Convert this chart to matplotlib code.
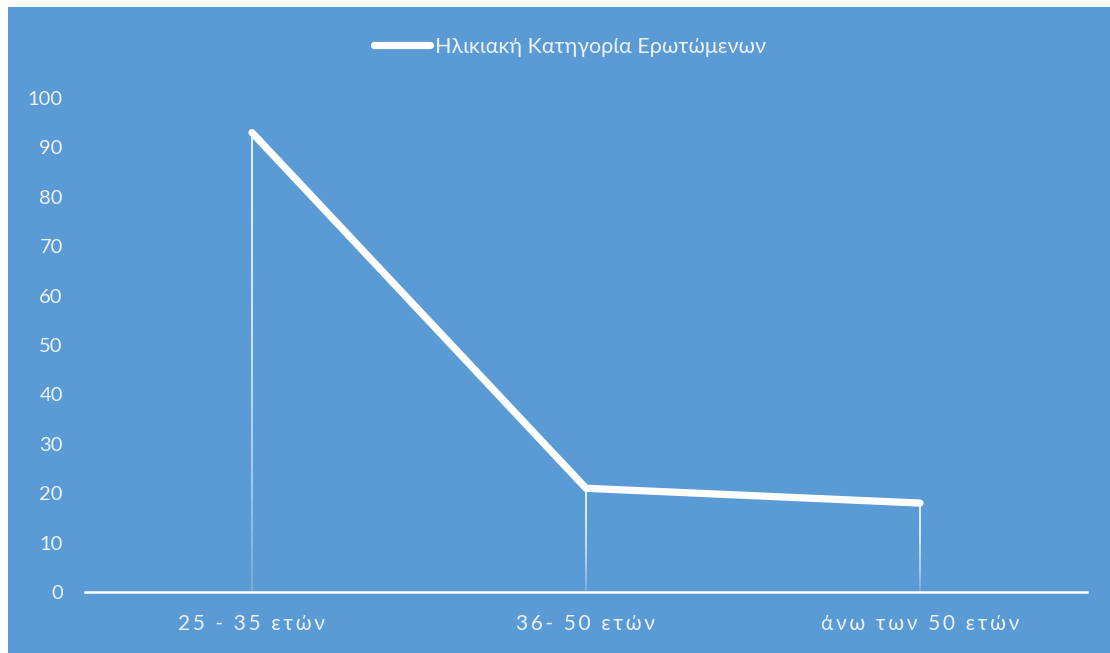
import numpy as np
import matplotlib.pyplot as plt
from matplotlib.patches import Rectangle

categories = ['25 - 35 ετών', '36- 50 ετών', 'άνω των 50 ετών']
values = [93, 21, 18]
series_name = 'Ηλικιακή Κατηγορία Ερωτώμενων'
yticks = list(range(0, 101, 10))

bg = '#5b9bd5'
txt = '#eef3f9'

plt.rcParams['font.family'] = ['Lato', 'DejaVu Sans']

fig = plt.figure(figsize=(11.1, 6.53), dpi=100)
fig.patch.set_facecolor('white')
# blue chart area (thin white edge on top/left like the screenshot)
fig.patches.append(Rectangle((8 / 1110, 0), 1, 1 - 7 / 653, transform=fig.transFigure,
                             facecolor=bg, edgecolor='none', zorder=-10))

ax = fig.add_axes([85 / 1110, 61 / 653, 1002 / 1110, 494 / 653])
ax.set_zorder(5)
ax.patch.set_visible(False)

x = np.arange(len(categories))

# drop lines, fading towards the axis
n = 30
for xi, v in zip(x, values):
    edges = np.linspace(v, 0, n + 1)
    for k in range(n):
        a = 1.0 - 0.85 * (k / n) ** 2
        ax.plot([xi, xi], [edges[k], edges[k + 1]], color='white', lw=1.2,
                alpha=a, solid_capstyle='butt', zorder=2)

ax.plot(x, values, color='white', lw=5.2, solid_capstyle='round',
        solid_joinstyle='round', label=series_name, zorder=3)

ax.set_xlim(-0.5, len(categories) - 0.5)
ax.set_ylim(0, 100)
ax.set_yticks(yticks)
ax.set_xticks(x)
# letter-spaced category labels
ax.set_xticklabels(['\u2009'.join(c) for c in categories])

for s in ['top', 'right', 'left']:
    ax.spines[s].set_visible(False)
ax.spines['bottom'].set_color('white')
ax.spines['bottom'].set_linewidth(1.8)

ax.tick_params(axis='y', length=0, pad=16, labelsize=14.5, labelcolor=txt)
ax.tick_params(axis='x', length=0, pad=16, labelsize=15, labelcolor=txt)

leg = fig.legend(loc='center', bbox_to_anchor=(570 / 1110, 1 - 47 / 653),
                 frameon=False, fontsize=15.5, handlelength=2.6, handletextpad=0.25,
                 labelcolor=txt)

plt.savefig('out.png', dpi=100, facecolor=fig.get_facecolor())
